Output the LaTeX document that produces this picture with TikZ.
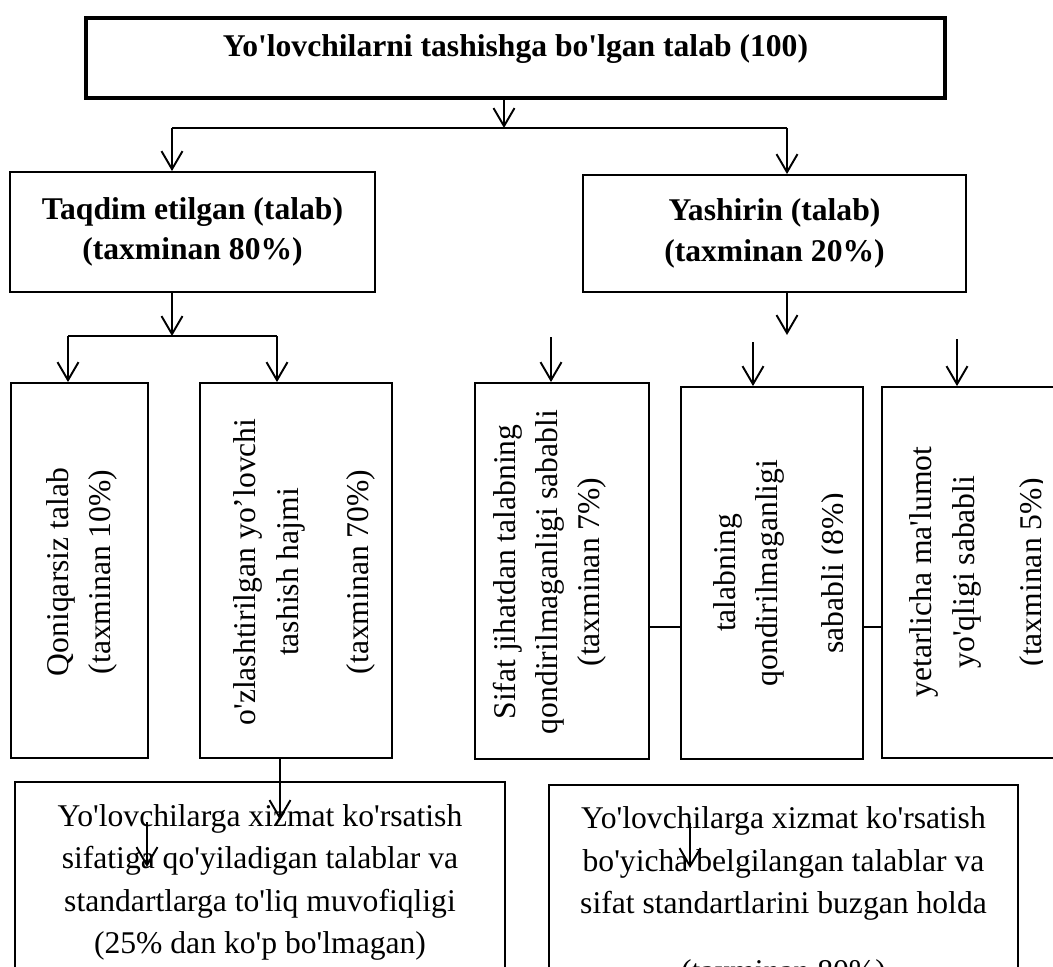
\documentclass[tikz,border=0pt]{standalone}
\usepackage{fontspec}
\setmainfont{Liberation Serif}[Ligatures=TeXOff]
\usetikzlibrary{arrows.meta,positioning}

\begin{document}
\begin{tikzpicture}[
    x=0.02cm, y=-0.02cm,
    font=\fontsize{18}{24}\selectfont,
    box/.style={rectangle, draw, line width=1.1pt, align=center, inner sep=0pt},
    head/.style={box, font=\fontsize{18}{23}\selectfont\bfseries},
    vtext/.style={rotate=90, align=center, inner sep=0pt},
    line/.style={draw, line width=1.1pt, -{Straight Barb[length=3.6mm,width=4.2mm]}},
    link/.style={draw, line width=1.1pt}
  ]
  \useasboundingbox (0,0) rectangle (1053,966);
  \clip (0,0) rectangle (1053,966);

  % Main Nodes
  \node [box, line width=2pt, minimum width=17.18cm, text height=0.78cm, text depth=0.82cm,
    font=\fontsize{18}{22}\selectfont\bfseries] (demand) at (515.5,58) {Yo'lovchilarni tashishga bo'lgan talab (100)};
  \node [head, minimum width=7.3cm, minimum height=2.4cm] (shown) at (192.5,232) {Taqdim etilgan (talab)\\(taxminan 80\%)};
  \node [head, minimum width=7.66cm, minimum height=2.34cm] (hidden) at (774.5,233.5) {Yashirin (talab)\\(taxminan 20\%)};

  % Vertical boxes
  \node [box, minimum width=2.74cm, minimum height=7.5cm] (unmet) at (79.5,570.5) {};
  \node [box, minimum width=3.84cm, minimum height=7.5cm] (served) at (296,570.5) {};
  \node [box, minimum width=3.48cm, minimum height=7.52cm] (quality) at (562,571) {};
  \node [box, minimum width=3.64cm, minimum height=7.44cm] (unsat) at (772,573) {};
  \node [box, minimum width=3.76cm, minimum height=7.42cm] (noinfo) at (976,572.5) {};

  \node [vtext] (unmettext) at (82,572) {Qoniqarsiz talab\\(taxminan 10\%)};
  \node [vtext] (servedtext) at (304.5,572) {o'zlashtirilgan yo’lovchi\\tashish hajmi\\[0.56cm](taxminan 70\%)};
  \node [vtext] (qualitytext) at (550,572) {Sifat jihatdan talabning\\qondirilmaganligi sababli\\(taxminan 7\%)};
  \begin{scope}
    \clip (681,387) rectangle (842,759);
    \node [vtext] (unsattext) at (782,573) {talabning\\qondirilmaganligi\\[0.48cm]sababli (8\%)};
  \end{scope}
  \begin{scope}
    \clip (882,387) rectangle (1042,758);
    \node [vtext] (noinfotext) at (979,572) {yetarlicha ma'lumot\\yo'qligi sababli\\[0.5cm](taxminan 5\%)};
  \end{scope}

  % Bottom boxes
  \node [box, minimum width=9.8cm, minimum height=4.02cm] (comply) at (260,882.5) {Yo'lovchilarga xizmat ko'rsatish\\sifatiga qo'yiladigan talablar va\\standartlarga to'liq muvofiqligi\\(25\% dan ko'p bo'lmagan)};
  \node [box, minimum width=9.38cm, minimum height=4.5cm] (violate) at (783.5,897.5) {Yo'lovchilarga xizmat ko'rsatish\\bo'yicha belgilangan talablar va\\sifat standartlarini buzgan holda\\[0.52cm](taxminan 80\%)};

  % Split points
  \coordinate (split) at (504,128);
  \coordinate (leftdrop) at (172,128);
  \coordinate (rightdrop) at (787,128);
  \coordinate (midsplit) at (172,336);
  \coordinate (unmetdrop) at (68,336);
  \coordinate (serveddrop) at (277,336);
  \coordinate (hiddenend) at (787,335);
  \coordinate (qualitytop) at (551,337);
  \coordinate (unsattop) at (753,342);
  \coordinate (noinfotop) at (957,339);
  \coordinate (row) at (0,627);
  \coordinate (servedtip) at (280,820);
  \coordinate (strayA) at (147,822);
  \coordinate (strayAtip) at (147,867);
  \coordinate (strayB) at (690,823);
  \coordinate (strayBtip) at (690,868);

  % Edges
  \path [line] (demand.south -| split) -- (split);
  \path [link] (leftdrop) -- (rightdrop);
  \path [line] (leftdrop) -- (leftdrop |- shown.north);
  \path [line] (rightdrop) -- (rightdrop |- hidden.north);
  \path [line] (shown.south -| midsplit) -- (midsplit);
  \path [link] (unmetdrop) -- (serveddrop);
  \path [line] (unmetdrop) -- (unmetdrop |- unmet.north);
  \path [line] (serveddrop) -- (serveddrop |- served.north);
  \path [line] (hidden.south -| hiddenend) -- (hiddenend);
  \path [line] (qualitytop) -- (qualitytop |- quality.north);
  \path [line] (unsattop) -- (unsattop |- unsat.north);
  \path [line] (noinfotop) -- (noinfotop |- noinfo.north);
  \path [link] (quality.east |- row) -- (unsat.west |- row);
  \path [link] (unsat.east |- row) -- (noinfo.west |- row);
  \path [line] (served.south -| servedtip) -- (servedtip);
  \path [line] (strayA) -- (strayAtip);
  \path [line] (strayB) -- (strayBtip);
\end{tikzpicture}
\end{document}
